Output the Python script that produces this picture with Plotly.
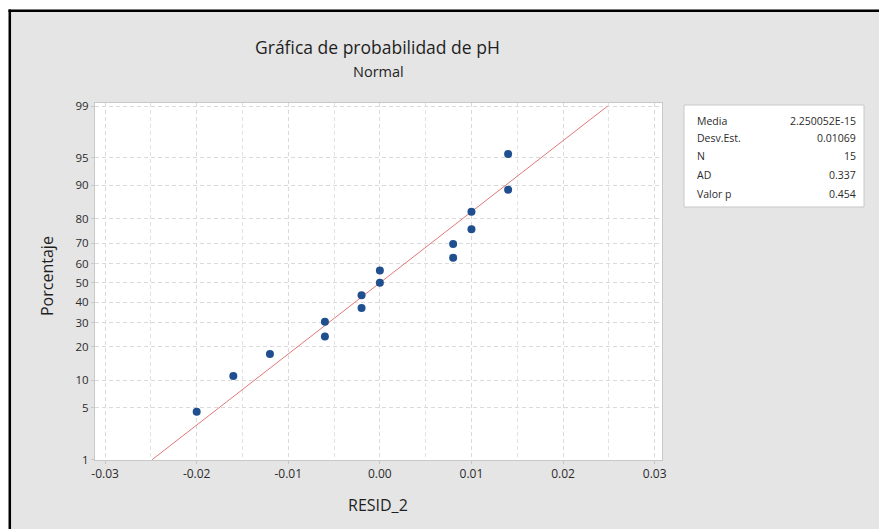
import plotly.graph_objects as go
from statistics import NormalDist

# ---- data ----
resid = [-0.020, -0.016, -0.012, -0.006, -0.006, -0.002, -0.002, 0.000, 0.000,
         0.008, 0.008, 0.010, 0.010, 0.014, 0.014]
percent = [4.5, 11.0, 17.5, 24.0, 30.5, 37.0, 43.5, 50.0, 56.5, 63.0, 69.5,
           76.0, 82.5, 89.0, 95.5]
y_tick_pct = [1, 5, 10, 20, 30, 40, 50, 60, 70, 80, 90, 95, 99]
x_tick_vals = [-0.03, -0.02, -0.01, 0.00, 0.01, 0.02, 0.03]
x_tick_text = ["-0.03", "-0.02", "-0.01", "0.00", "0.01", "0.02", "0.03"]
stat_labels = ["Media", "Desv.Est.", "N", "AD", "Valor p"]
stat_values = ["2.250052E-15", "0.01069", "15", "0.337", "0.454"]
fit_mean = 2.250052e-15
fit_sd = 0.01069
fit_pct_range = [1, 99]

nd = NormalDist()
def zq(p):
    return nd.inv_cdf(p / 100.0)

W, H = 879, 529
L, R, T, B = 95, 662, 103, 460
def xp(px):
    return (px - L) / (R - L)
def yp(py):
    return (B - py) / (B - T)

FONT = "Open Sans"
fig = go.Figure()

# fitted line
fz = [zq(p) for p in fit_pct_range]
fx = [fit_mean + fit_sd * z for z in fz]
fig.add_trace(go.Scatter(x=fx, y=fz, mode="lines",
                         line=dict(color="#e07878", width=1), hoverinfo="skip"))

# data points
fig.add_trace(go.Scatter(x=resid, y=[zq(p) for p in percent], mode="markers",
                         marker=dict(color="#1f4f8f", size=8)))

fig.update_layout(
    width=W, height=H,
    margin=dict(l=L, r=W - R, t=T, b=H - B),
    paper_bgcolor="#e5e5e5",
    plot_bgcolor="white",
    showlegend=False,
    font=dict(family=FONT, color="#333333"),
)

GRID = "#dadada"
fig.update_xaxes(
    range=[-0.0311, 0.0308],
    tickvals=x_tick_vals, ticktext=x_tick_text,
    tickfont=dict(size=12, color="#2b2b2b"),
    showgrid=True, gridcolor=GRID, griddash="4px,3px", gridwidth=1,
    minor=dict(dtick=0.005, tick0=0, showgrid=True, gridcolor="#e2e2e2",
               griddash="4px,3px", gridwidth=1),
    showline=True, linecolor="#c8c8c8", linewidth=1, mirror=True,
    ticks="outside", ticklen=3, tickcolor="#c8c8c8",
    zeroline=False,
)
fig.update_yaxes(
    range=[zq(1) - 0.004, zq(99) + 0.04],
    tickvals=[zq(p) for p in y_tick_pct], ticktext=[str(p) for p in y_tick_pct],
    tickfont=dict(size=11.5, color="#2b2b2b"),
    showgrid=True, gridcolor=GRID, griddash="4px,3px", gridwidth=1,
    showline=True, linecolor="#c8c8c8", linewidth=1, mirror=True,
    ticks="outside", ticklen=3, tickcolor="#c8c8c8",
    zeroline=False,
)

shapes = []
# white outer margin strips and black frame (top + left)
shapes.append(dict(type="rect", xref="paper", yref="paper", layer="above",
                   x0=xp(0), x1=xp(W), y0=yp(0), y1=yp(9.5),
                   fillcolor="white", line=dict(width=0)))
shapes.append(dict(type="rect", xref="paper", yref="paper", layer="above",
                   x0=xp(0), x1=xp(8.5), y0=yp(0), y1=yp(H),
                   fillcolor="white", line=dict(width=0)))
shapes.append(dict(type="line", xref="paper", yref="paper",
                   x0=xp(8.5), x1=xp(W), y0=yp(10.8), y1=yp(10.8),
                   line=dict(color="black", width=2.5)))
shapes.append(dict(type="line", xref="paper", yref="paper",
                   x0=xp(9.8), x1=xp(9.8), y0=yp(9.5), y1=yp(H),
                   line=dict(color="black", width=2.5)))
# stats box
shapes.append(dict(type="rect", xref="paper", yref="paper",
                   x0=xp(684), x1=xp(864), y0=yp(105), y1=yp(207),
                   fillcolor="white", line=dict(color="#c8c8c8", width=1)))
fig.update_layout(shapes=shapes)

ann = []
ann.append(dict(text="Gráfica de probabilidad de pH", x=xp(377), y=yp(47),
                xref="paper", yref="paper", showarrow=False,
                xanchor="center", yanchor="middle",
                font=dict(size=17.5, family=FONT, color="#1f1f1f")))
ann.append(dict(text="Normal", x=xp(378), y=yp(71),
                xref="paper", yref="paper", showarrow=False,
                xanchor="center", yanchor="middle",
                font=dict(size=14.5, family=FONT, color="#1f1f1f")))
ann.append(dict(text="Porcentaje", x=xp(47), y=yp(276),
                xref="paper", yref="paper", showarrow=False, textangle=-90,
                xanchor="center", yanchor="middle",
                font=dict(size=16, family=FONT, color="#1f1f1f")))
ann.append(dict(text="RESID_2", x=xp(378), y=yp(505),
                xref="paper", yref="paper", showarrow=False,
                xanchor="center", yanchor="middle",
                font=dict(size=16, family=FONT, color="#1f1f1f")))
row_y = [121, 138, 156, 175, 194]
for lab, val, ry in zip(stat_labels, stat_values, row_y):
    ann.append(dict(text=lab, x=xp(695), y=yp(ry), xref="paper", yref="paper",
                    showarrow=False, xanchor="left", yanchor="middle",
                    font=dict(size=10.5, family=FONT, color="#2b2b2b")))
    ann.append(dict(text=val, x=xp(858), y=yp(ry), xref="paper", yref="paper",
                    showarrow=False, xanchor="right", yanchor="middle",
                    font=dict(size=10.5, family=FONT, color="#2b2b2b")))
fig.update_layout(annotations=ann)

fig.write_html("out.html")
